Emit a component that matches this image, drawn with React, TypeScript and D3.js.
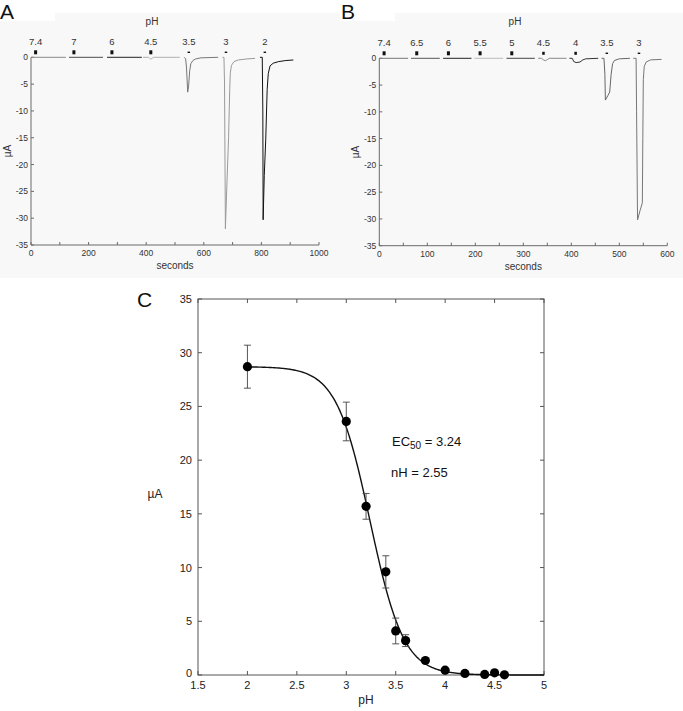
import React from "react";
import * as d3 from "d3";

// ---------- Panel A data (time in s, current in µA) ----------
const aLabels = ["7.4", "7", "6", "4.5", "3.5", "3", "2"];
const aMarkT = [16, 149, 281, 416, 548, 677, 812];
const aMarkKind = ["sq", "sq", "sq", "sq", "dash", "dash", "dash"];
const aSeg1 = [[0, 0], [121, 0]];
const aSeg2 = [[132, 0], [250, 0]];
const aSeg3 = [[264, 0], [385, 0]];
const aSeg4 = [[389, 0], [408, 0], [412, -0.2], [416, -0.35], [420, -0.2], [426, 0], [517, 0]];
const aSeg5 = [[532, 0], [537, -0.3], [540, -2], [544, -6.5], [547, -5.5], [551, -2.5], [555, -1.2], [562, -0.6], [572, -0.3], [590, -0.1], [650, 0]];
const aSeg6 = [[665, 0], [670, 0], [672, -5], [675, -32], [680, -24], [686, -15], [690, -6], [692, -3], [696, -1.5], [705, -0.8], [720, -0.5], [750, -0.3], [778, -0.2]];
const aSeg7 = [[795, 0], [803, 0], [805, -10], [806, -30.3], [810, -22], [815, -15.4], [820, -6], [824, -3], [830, -1.6], [841, -1.1], [860, -0.8], [885, -0.6], [911, -0.5]];
const aSegs = [aSeg1, aSeg2, aSeg3, aSeg4, aSeg5, aSeg6, aSeg7];
const aSegColors = ["#8a8a8a", "#4a4a4a", "#222", "#b0b0b0", "#777", "#9a9a9a", "#111"];
const aXTicks = [0, 100, 200, 300, 400, 500, 600, 700, 800, 900, 1000];
const aXLabels = [0, 200, 400, 600, 800, 1000];
const yTicksTrace = [0, -5, -10, -15, -20, -25, -30, -35];

// ---------- Panel B data ----------
const bLabels = ["7.4", "6.5", "6", "5.5", "5", "4.5", "4", "3.5", "3"];
const bMarkT = [10, 78, 144, 210, 276, 342, 409, 474, 541];
const bMarkKind = ["sq", "sq", "sq", "sq", "sq", "sm", "sm", "dash", "dash"];
const bSeg1 = [[0, 0], [60, 0]];
const bSeg2 = [[66, 0], [126, 0]];
const bSeg3 = [[133, 0], [192, 0]];
const bSeg4 = [[198, 0], [258, 0]];
const bSeg5 = [[265, 0], [324, 0]];
const bSeg6 = [[331, 0], [338, 0], [342, -0.3], [346, -0.45], [350, -0.25], [354, 0], [390, 0]];
const bSeg7 = [[396, 0], [402, 0], [405, -0.6], [410, -0.8], [418, -0.7], [424, -0.3], [430, -0.1], [456, 0]];
const bSeg8 = [[463, 0], [468, 0], [470, -3], [471, -7.8], [476, -7], [480, -6.3], [483, -3], [486, -1], [490, -0.4], [500, -0.1], [522, 0]];
const bSeg9 = [[529, 0], [535, 0], [536, -10], [538, -30.2], [543, -28.5], [548, -27], [549, -15], [550, -4], [552, -1.5], [556, -0.7], [565, -0.3], [588, -0.2]];
const bSegs = [bSeg1, bSeg2, bSeg3, bSeg4, bSeg5, bSeg6, bSeg7, bSeg8, bSeg9];
const bSegColors = ["#777", "#555", "#222", "#bbb", "#444", "#888", "#333", "#666", "#777"];
const bXTicks = [0, 50, 100, 150, 200, 250, 300, 350, 400, 450, 500, 550, 600];
const bXLabels = [0, 100, 200, 300, 400, 500, 600];

// ---------- Panel C data ----------
const cPH = [2, 3, 3.2, 3.4, 3.5, 3.6, 3.8, 4.0, 4.2, 4.4, 4.5, 4.6];
const cMean = [28.7, 23.6, 15.7, 9.6, 4.1, 3.2, 1.35, 0.45, 0.15, 0.05, 0.2, 0.02];
const cErr = [2.0, 1.8, 1.2, 1.5, 1.2, 0.55, 0, 0, 0, 0, 0, 0];
const cMax = 28.7;
const cEC50 = 3.24;
const cNH = 2.55;
const cXTicks = [1.5, 2, 2.5, 3, 3.5, 4, 4.5, 5];
const cYTicks = [0, 5, 10, 15, 20, 25, 30, 35];

const FONT = "'Liberation Sans', Arial, Helvetica, sans-serif";

type TraceProps = {
  left: number; right: number; top: number; bottom: number; pHX: number;
  xMax: number; segs: number[][][]; colors: string[];
  labels: string[]; markT: number[]; markKind: string[];
  xTicks: number[]; xLabels: number[];
};

function TracePanel(p: TraceProps) {
  const x = d3.scaleLinear().domain([0, p.xMax]).range([p.left, p.right]);
  const y = d3.scaleLinear().domain([-35, 0]).range([p.bottom, p.top]);
  const line = d3.line<number[]>().x((d) => x(d[0])).y((d) => y(d[1]));
  const axisColor = "#6a6a6a";
  return (
    <g fontFamily={FONT}>
      <line x1={p.left} x2={p.left} y1={p.top} y2={p.bottom} stroke={axisColor} strokeWidth={1} />
      <line x1={p.left} x2={p.right} y1={p.bottom} y2={p.bottom} stroke={axisColor} strokeWidth={1} />
      {yTicksTrace.map((t) => (
        <g key={"y" + t}>
          <line x1={p.left} x2={p.left + 3} y1={y(t)} y2={y(t)} stroke={axisColor} />
          <text x={p.left - 3} y={y(t) + 3} fontSize={8.5} textAnchor="end" fill="#333">{t}</text>
        </g>
      ))}
      {p.xTicks.map((t) => (
        <line key={"x" + t} x1={x(t)} x2={x(t)} y1={p.bottom} y2={p.bottom - 3} stroke={axisColor} />
      ))}
      {p.xLabels.map((t) => (
        <text key={"xl" + t} x={x(t)} y={p.bottom + 11} fontSize={8.5} textAnchor="middle" fill="#333">{t}</text>
      ))}
      <text x={(p.left + p.right) / 2} y={p.bottom + 24} fontSize={10} textAnchor="middle" fill="#333">seconds</text>
      <text transform={`translate(${p.left - 20},${(p.top + p.bottom) / 2}) rotate(-90)`} fontSize={10} textAnchor="middle" fill="#333">µA</text>
      <text x={p.pHX} y={25} fontSize={10} textAnchor="middle" fill="#333">pH</text>
      {p.segs.map((s, i) => (
        <path key={"s" + i} d={line(s) || ""} fill="none" stroke={p.colors[i]} strokeWidth={1} strokeLinejoin="round" />
      ))}
      {p.markT.map((t, i) => {
        const k = p.markKind[i];
        const w = k === "sq" ? 3 : 2.5;
        const h = k === "sq" ? 4 : k === "sm" ? 3 : 1.4;
        const cy = y(0) - 5;
        return (
          <g key={"m" + i}>
            <rect x={x(t) - w / 2} y={cy - h / 2} width={w} height={h} fill="#111" />
            <text x={x(t)} y={y(0) - 12} fontSize={9.5} textAnchor="middle" fill="#333">{p.labels[i]}</text>
          </g>
        );
      })}
    </g>
  );
}

function DoseResponse() {
  const left = 198, right = 544, top = 299, bottom = 675;
  const x = d3.scaleLinear().domain([1.5, 5]).range([left, right]);
  const y = d3.scaleLinear().domain([0, 35]).range([bottom, top]);
  const fitPH = d3.range(2, 5.0001, 0.01);
  const fit = fitPH.map((ph) => [ph, cMax / (1 + Math.pow(10, cNH * (ph - cEC50)))]);
  const line = d3.line<number[]>().x((d) => x(d[0])).y((d) => y(d[1]));
  const ax = "#555";
  return (
    <g fontFamily={FONT}>
      <rect x={left} y={top} width={right - left} height={bottom - top} fill="#fff" stroke={ax} strokeWidth={1} />
      {cXTicks.map((t) => (
        <g key={"cx" + t}>
          <line x1={x(t)} x2={x(t)} y1={bottom} y2={bottom - 4} stroke={ax} />
          <line x1={x(t)} x2={x(t)} y1={top} y2={top + 4} stroke={ax} />
          <text x={x(t)} y={bottom + 14} fontSize={11} textAnchor="middle" fill="#222">{t}</text>
        </g>
      ))}
      {cYTicks.map((t) => (
        <g key={"cy" + t}>
          <line x1={left} x2={left + 4} y1={y(t)} y2={y(t)} stroke={ax} />
          <line x1={right} x2={right - 4} y1={y(t)} y2={y(t)} stroke={ax} />
          <text x={left - 6} y={y(t) + (t === 0 ? 2 : 4)} fontSize={11} textAnchor="end" fill="#222">{t}</text>
        </g>
      ))}
      <text x={366} y={704} fontSize={12} textAnchor="middle" fill="#222">pH</text>
      <text x={155} y={498} fontSize={12} textAnchor="middle" fill="#222">µA</text>
      <path d={line(fit) || ""} fill="none" stroke="#111" strokeWidth={1.4} />
      {cPH.map((ph, i) => (
        <g key={"pt" + i}>
          {cErr[i] > 0 && (
            <g stroke="#444" strokeWidth={0.9}>
              <line x1={x(ph)} x2={x(ph)} y1={y(cMean[i] - cErr[i])} y2={y(cMean[i] + cErr[i])} />
              <line x1={x(ph) - 3.5} x2={x(ph) + 3.5} y1={y(cMean[i] - cErr[i])} y2={y(cMean[i] - cErr[i])} />
              <line x1={x(ph) - 3.5} x2={x(ph) + 3.5} y1={y(cMean[i] + cErr[i])} y2={y(cMean[i] + cErr[i])} />
            </g>
          )}
          <circle cx={x(ph)} cy={y(cMean[i])} r={4.6} fill="#000" />
        </g>
      ))}
      <text x={392} y={446} fontSize={13} fill="#111">
        EC<tspan fontSize={10} dy={3}>50</tspan><tspan dy={-3}> = {cEC50.toFixed(2)}</tspan>
      </text>
      <text x={391} y={477} fontSize={13} fill="#111">nH = {cNH.toFixed(2)}</text>
    </g>
  );
}

export default function App() {
  return (
    <svg width={683} height={711} style={{ position: "absolute", left: 0, top: 0, background: "#fff" }}>
      <rect x={0} y={13} width={683} height={265} fill="#f8f8f8" />
      <rect x={0} y={13} width={55} height={8} fill="#fff" />
      <rect x={340} y={13} width={55} height={8} fill="#fff" />
      <text x={0} y={19} fontSize={21} fontFamily={FONT} fill="#111">A</text>
      <text x={341} y={19} fontSize={21} fontFamily={FONT} fill="#111">B</text>
      <text x={137} y={307} fontSize={21} fontFamily={FONT} fill="#111">C</text>
      <TracePanel left={31} right={319} top={57.3} bottom={245} xMax={1000} pHX={152}
        segs={aSegs} colors={aSegColors} labels={aLabels} markT={aMarkT} markKind={aMarkKind}
        xTicks={aXTicks} xLabels={aXLabels} />
      <TracePanel left={379.3} right={667.3} top={58.3} bottom={245.7} xMax={600} pHX={515}
        segs={bSegs} colors={bSegColors} labels={bLabels} markT={bMarkT} markKind={bMarkKind}
        xTicks={bXTicks} xLabels={bXLabels} />
      <DoseResponse />
    </svg>
  );
}
